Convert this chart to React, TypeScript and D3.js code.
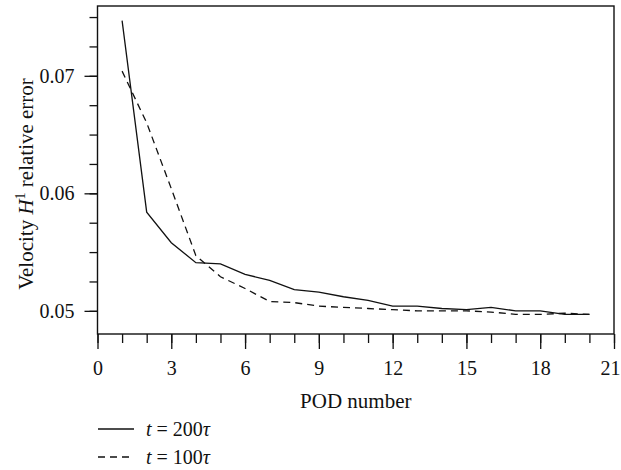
import { useRef, useEffect } from 'react';
import * as d3 from 'd3';

const podNumbers = [1, 2, 3, 4, 5, 6, 7, 8, 9, 10, 11, 12, 13, 14, 15, 16, 17, 18, 19, 20];
const errorT200 = [
  0.0747, 0.0584, 0.0558, 0.0541, 0.054, 0.0531, 0.0526, 0.0518, 0.0516, 0.0512,
  0.0509, 0.0504, 0.0504, 0.0502, 0.0501, 0.0503, 0.05, 0.05, 0.0497, 0.0497,
];
const errorT100 = [
  0.0704, 0.066, 0.0604, 0.0547, 0.0529, 0.0519, 0.0508, 0.0507, 0.0504, 0.0503,
  0.0502, 0.0501, 0.05, 0.05, 0.05, 0.0499, 0.0497, 0.0497, 0.0498, 0.0497,
];
const xMajorTicks = [0, 3, 6, 9, 12, 15, 18, 21];
const yMajorTicks = [0.05, 0.06, 0.07];
const legendTimes = ['200', '100'];

export default function App() {
  const ref = useRef<SVGSVGElement>(null);

  useEffect(() => {
    const width = 621;
    const height = 470;
    const left = 97.5;
    const right = 614;
    const top = 6;
    const bottom = 334;
    const font = "'Liberation Serif', serif";
    const ink = '#111';

    const svg = d3.select(ref.current).attr('width', width).attr('height', height);
    svg.selectAll('*').remove(); // clear svg

    const x = d3.scaleLinear().domain([0, 21]).range([left, right]);
    const y = d3.scaleLinear().domain([0.04803, 0.07594]).range([bottom, top]);

    // frame
    svg
      .append('rect')
      .attr('x', left)
      .attr('y', top)
      .attr('width', right - left)
      .attr('height', bottom - top)
      .attr('fill', 'none')
      .attr('stroke', ink)
      .attr('stroke-width', 1.4);

    // x axis: minor then major ticks
    svg
      .append('g')
      .attr('transform', `translate(0, ${bottom})`)
      .call(d3.axisBottom(x).tickValues(d3.range(0, 22)).tickSize(9).tickSizeOuter(0).tickFormat(() => ''))
      .call((g) => g.select('.domain').remove());

    svg
      .append('g')
      .attr('transform', `translate(0, ${bottom})`)
      .call(d3.axisBottom(x).tickValues(xMajorTicks).tickSize(15).tickSizeOuter(0))
      .call((g) => g.select('.domain').remove())
      .call((g) =>
        g
          .selectAll<SVGTextElement, number>('text')
          .attr('dy', null)
          .attr('y', 41)
          .attr('dx', (d) => (d === 21 ? -4 : 0))
      );

    // y axis
    svg
      .append('g')
      .attr('transform', `translate(${left}, 0)`)
      .call(d3.axisLeft(y).tickValues(d3.range(0.05, 0.0759, 0.0025)).tickSize(8).tickSizeOuter(0).tickFormat(() => ''))
      .call((g) => g.select('.domain').remove());

    svg
      .append('g')
      .attr('transform', `translate(${left}, 0)`)
      .call(d3.axisLeft(y).tickValues(yMajorTicks).tickSize(13).tickPadding(10).tickSizeOuter(0).tickFormat(d3.format('.2f')))
      .call((g) => g.select('.domain').remove());

    svg
      .selectAll('.tick line')
      .attr('stroke', ink)
      .attr('stroke-width', 1.3);
    svg
      .selectAll('.tick text')
      .attr('fill', ink)
      .style('font-family', font)
      .style('font-size', '20px');

    // data lines
    const line = d3
      .line<number>()
      .x((_, i) => x(podNumbers[i]))
      .y((d) => y(d));

    svg
      .append('path')
      .attr('d', line(errorT200))
      .attr('fill', 'none')
      .attr('stroke', ink)
      .attr('stroke-width', 1.3);

    svg
      .append('path')
      .attr('d', line(errorT100))
      .attr('fill', 'none')
      .attr('stroke', ink)
      .attr('stroke-width', 1.3)
      .attr('stroke-dasharray', '7,5');

    // axis titles
    svg
      .append('text')
      .attr('x', (left + right) / 2)
      .attr('y', 408)
      .attr('text-anchor', 'middle')
      .attr('fill', ink)
      .style('font-family', font)
      .style('font-size', '21px')
      .text('POD number');

    const yTitle = svg
      .append('text')
      .attr('transform', 'translate(33, 184) rotate(-90)')
      .attr('text-anchor', 'middle')
      .attr('fill', ink)
      .style('font-family', font)
      .style('font-size', '21px');
    yTitle.append('tspan').text('Velocity ');
    yTitle.append('tspan').style('font-style', 'italic').text('H');
    yTitle.append('tspan').attr('dy', -8).style('font-size', '14px').text('1');
    yTitle.append('tspan').attr('dy', 8).text(' relative error');

    // legend
    const legend = svg
      .selectAll('g.legend')
      .data(legendTimes)
      .join('g')
      .attr('class', 'legend')
      .attr('transform', (_, i) => `translate(98, ${429 + i * 28})`);

    legend
      .append('line')
      .attr('x1', 0)
      .attr('x2', 36)
      .attr('stroke', ink)
      .attr('stroke-width', 1.3)
      .attr('stroke-dasharray', (_, i) => (i === 0 ? null : '7,5'));

    const legendText = legend
      .append('text')
      .attr('x', 48)
      .attr('y', 7)
      .attr('fill', ink)
      .style('font-family', font)
      .style('font-size', '20px');
    legendText.append('tspan').style('font-style', 'italic').text('t');
    legendText.append('tspan').text((d) => ` = ${d}`);
    legendText.append('tspan').style('font-style', 'italic').text('τ');
  }, []);

  return <svg ref={ref} style={{ position: 'absolute', left: 0, top: 0 }} />;
}
